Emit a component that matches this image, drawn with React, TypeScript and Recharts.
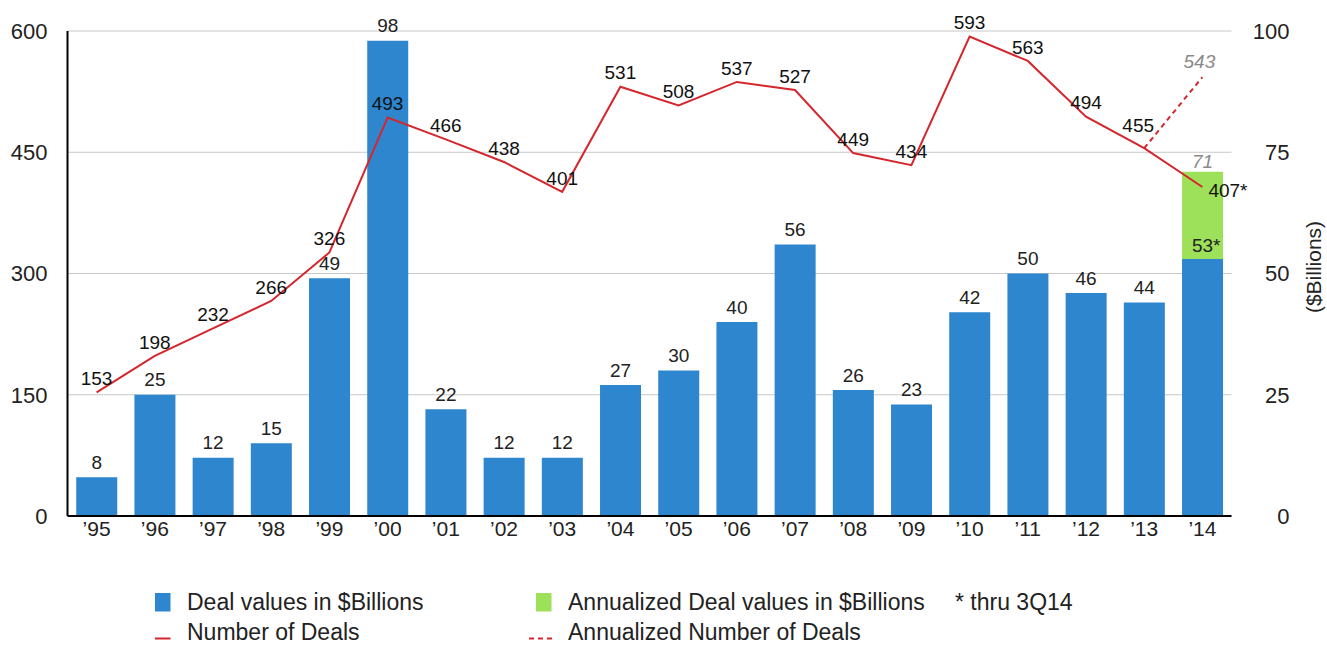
import React from 'react';
import { ComposedChart, Bar, Line, XAxis, YAxis, CartesianGrid, LabelList } from 'recharts';

const years = ['’95', '’96', '’97', '’98', '’99', '’00', '’01', '’02', '’03', '’04', '’05', '’06', '’07', '’08', '’09', '’10', '’11', '’12', '’13', '’14'];
const dealCounts = [153, 198, 232, 266, 326, 493, 466, 438, 401, 531, 508, 537, 527, 449, 434, 593, 563, 494, 455, 407];
const dealValues = [8, 25, 12, 15, 49, 98, 22, 12, 12, 27, 30, 40, 56, 26, 23, 42, 50, 46, 44, 53];
const annualizedValueExtra: (number | null)[] = [null, null, null, null, null, null, null, null, null, null, null, null, null, null, null, null, null, null, null, 18];
const annualizedDealCounts: (number | null)[] = [null, null, null, null, null, null, null, null, null, null, null, null, null, null, null, null, null, null, 455, 543];
const leftTicks = [0, 150, 300, 450, 600];
const rightTicks = [0, 25, 50, 75, 100];

const LAST = years.length - 1;

const data = years.map((year, i) => ({
  year,
  deals: dealCounts[i],
  value: dealValues[i],
  extra: annualizedValueExtra[i],
  annTotal: annualizedValueExtra[i] == null ? null : dealValues[i] + (annualizedValueExtra[i] as number),
  annDeals: annualizedDealCounts[i],
}));

const FONT = '"Liberation Sans", Arial, Helvetica, sans-serif';
const BLUE = '#2d86ce';
const GREEN = '#9de05a';
const RED = '#d5262d';
const GRAY = '#8a8a8a';

const DealLabel = (props: any) => {
  const { x, y, value, index } = props;
  if (value == null) return null;
  if (index === LAST) {
    return (
      <text x={x + 6} y={y + 3} dy="0.35em" textAnchor="start" fontSize={19} fontFamily={FONT} fill="#111">
        {value}*
      </text>
    );
  }
  let dx = 0;
  let off = -14;
  if (index === LAST - 1) {
    dx = -6;
    off = -23;
  }
  return (
    <text x={x + dx} y={y + off} dy="0.35em" textAnchor="middle" fontSize={19} fontFamily={FONT} fill="#111">
      {value}
    </text>
  );
};

const AnnDealLabel = (props: any) => {
  const { x, y, value, index } = props;
  if (value == null || index !== LAST) return null;
  return (
    <text x={x - 3} y={y - 16} dy="0.35em" textAnchor="middle" fontSize={19} fontStyle="italic" fontFamily={FONT} fill={GRAY}>
      {value}
    </text>
  );
};

const ValueLabel = (props: any) => {
  const { x, y, width, value, index } = props;
  if (value == null) return null;
  const cx = x + width / 2;
  if (index === LAST) {
    return (
      <text x={cx - 10.6} y={y - 14} dy="0.35em" textAnchor="start" fontSize={19} fontFamily={FONT} fill="#222">
        {value}*
      </text>
    );
  }
  return (
    <text x={cx} y={y - 15} dy="0.35em" textAnchor="middle" fontSize={19} fontFamily={FONT} fill="#222">
      {value}
    </text>
  );
};

const ExtraLabel = (props: any) => {
  const { x, y, width, value } = props;
  if (value == null) return null;
  return (
    <text x={x + width / 2} y={y - 10} dy="0.35em" textAnchor="middle" fontSize={19} fontStyle="italic" fontFamily={FONT} fill={GRAY}>
      {value}
    </text>
  );
};

const RightTick = (props: any) => {
  const { x, y, payload } = props;
  return (
    <text x={x + 58} y={y} dy="0.355em" textAnchor="end" fontSize={22} fontFamily={FONT} fill="#222">
      {payload.value}
    </text>
  );
};

const RightAxisLabel = (props: any) => {
  const { viewBox } = props;
  const cx = viewBox.x + 81.5;
  const cy = viewBox.y + viewBox.height / 2 - 6.5;
  return (
    <text
      x={cx}
      y={cy}
      transform={`rotate(-90 ${cx} ${cy})`}
      textAnchor="middle"
      dominantBaseline="central"
      fontSize={21}
      fontFamily={FONT}
      fill="#222"
    >
      ($Billions)
    </text>
  );
};

const Legend = () => (
  <svg width={1327} height={645} style={{ position: 'absolute', left: 0, top: 0, pointerEvents: 'none' }}>
    <g fontFamily={FONT} fontSize={23} fill="#222">
      <rect x={155} y={593} width={15.5} height={18.5} fill={BLUE} />
      <text x={187} y={609.5}>Deal values in $Billions</text>
      <rect x={536} y={593} width={15.5} height={18.5} fill={GREEN} />
      <text x={568} y={609.5}>Annualized Deal values in $Billions</text>
      <text x={955} y={609.5}>* thru 3Q14</text>
      <line x1={155} x2={170.5} y1={638.5} y2={638.5} stroke={RED} strokeWidth={2} />
      <text x={187} y={640}>Number of Deals</text>
      <line x1={529} x2={553} y1={638.5} y2={638.5} stroke={RED} strokeWidth={2} strokeDasharray="5 4" />
      <text x={568} y={640}>Annualized Number of Deals</text>
    </g>
  </svg>
);

export default function App() {
  return (
    <div style={{ position: 'absolute', left: 0, top: 0, width: 1327, height: 645, background: '#fff' }}>
      <ComposedChart
        width={1327}
        height={645}
        data={data}
        margin={{ top: 31, right: 0, bottom: 0, left: 0 }}
        barCategoryGap="15%"
      >
        <CartesianGrid yAxisId="left" vertical={false} stroke="#c8c8c8" strokeWidth={1} />
        <XAxis
          dataKey="year"
          height={129}
          axisLine={{ stroke: '#000', strokeWidth: 2 }}
          tickLine={false}
          tickSize={0}
          tickMargin={5}
          interval={0}
          tick={{ fontSize: 21, fontFamily: FONT, fill: '#222' }}
        />
        <YAxis
          yAxisId="left"
          orientation="left"
          width={67.5}
          domain={[0, 600]}
          ticks={leftTicks}
          axisLine={{ stroke: '#000', strokeWidth: 2 }}
          tickLine={false}
          tickSize={0}
          tickMargin={20}
          tick={{ fontSize: 22, fontFamily: FONT, fill: '#222' }}
        />
        <YAxis
          yAxisId="right"
          orientation="right"
          width={95.5}
          domain={[0, 100]}
          ticks={rightTicks}
          axisLine={false}
          tickLine={false}
          tickSize={0}
          tickMargin={0}
          tick={<RightTick />}
          label={<RightAxisLabel />}
        />
        <Bar yAxisId="right" dataKey="value" stackId="v" fill={BLUE} isAnimationActive={false}>
          <LabelList dataKey="value" content={<ValueLabel />} />
        </Bar>
        <Bar yAxisId="right" dataKey="extra" stackId="v" fill={GREEN} isAnimationActive={false}>
          <LabelList dataKey="annTotal" content={<ExtraLabel />} />
        </Bar>
        <Line
          yAxisId="left"
          dataKey="deals"
          stroke={RED}
          strokeWidth={2}
          dot={false}
          activeDot={false}
          isAnimationActive={false}
        >
          <LabelList dataKey="deals" content={<DealLabel />} />
        </Line>
        <Line
          yAxisId="left"
          dataKey="annDeals"
          stroke={RED}
          strokeWidth={2}
          strokeDasharray="5 4"
          dot={false}
          activeDot={false}
          isAnimationActive={false}
        >
          <LabelList dataKey="annDeals" content={<AnnDealLabel />} />
        </Line>
      </ComposedChart>
      <Legend />
    </div>
  );
}
